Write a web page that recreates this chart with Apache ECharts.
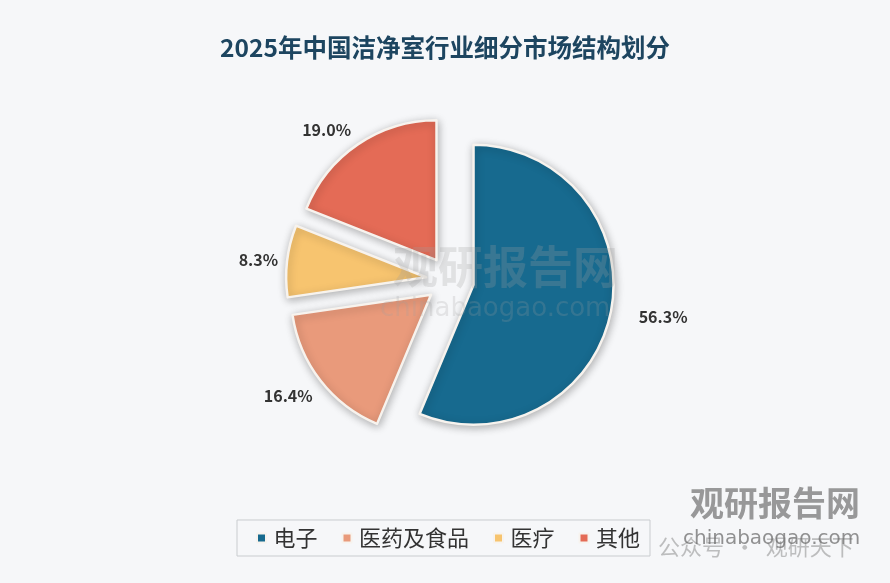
<!DOCTYPE html>
<html>
<head>
<meta charset="utf-8">
<script src="https://cdn.jsdelivr.net/npm/echarts@6/dist/echarts.min.js"></script>
<style>
html,body{margin:0;padding:0;background:#f6f7f9;}
#chart{width:890px;height:583px;}
</style>
</head>
<body>
<div id="chart"></div>
<script>
const title = '2025年中国洁净室行业细分市场结构划分';
const categories = ['电子', '医药及食品', '医疗', '其他'];
const shares = [56.3, 16.4, 8.3, 19.0];
const colors = ['#176a8f', '#e99a7b', '#f7c46f', '#e46b56'];

// label placement tweaks (style only)
const labelLen = [6, 6, 8, 12];
const labelLen2 = [17, 0, 0, 0];
const labelDx = [0, 2, 4, 5];
const labelDy = [3, 12, 0, -5];

const chart = echarts.init(document.getElementById('chart'));
const data = categories.map((name, i) => ({
  name: name,
  value: shares[i],
  selected: true,
  itemStyle: { color: colors[i] },
  labelLine: { length: labelLen[i], length2: labelLen2[i] }
}));

chart.setOption({
  animation: false,
  backgroundColor: '#f6f7f9',
  title: {
    text: title,
    left: 'center',
    top: 30,
    textStyle: {
      fontFamily: 'Noto Sans CJK SC',
      fontWeight: 'bold',
      fontSize: 24.5,
      color: '#1d4560'
    }
  },
  legend: {
    data: categories,
    left: 237,
    bottom: 27,
    icon: 'path://M0,0H10V10H0Z',
    itemWidth: 14,
    itemHeight: 9,
    itemGap: 24,
    padding: [7, 10, 7, 19],
    borderColor: '#c9cccf',
    borderWidth: 1,
    textStyle: {
      fontFamily: 'Noto Sans CJK SC',
      fontSize: 22,
      color: '#333'
    }
  },
  graphic: [
    { type: 'text', left: 393, top: 244, z: 100,
      style: { text: '观研报告网', fontFamily: 'Noto Sans CJK SC', fontWeight: 'bold', fontSize: 45, fill: 'rgba(160,160,160,0.25)' } },
    { type: 'text', left: 380, top: 296, z: 100,
      style: { text: 'chinabaogao.com', fontFamily: 'DejaVu Sans', fontSize: 26, fill: 'rgba(160,160,160,0.22)' } },
    { type: 'text', left: 690, top: 486, z: 100,
      style: { text: '观研报告网', fontFamily: 'Noto Sans CJK SC', fontWeight: 'bold', fontSize: 34, fill: 'rgba(120,120,120,0.75)' } },
    { type: 'text', left: 683, top: 529, z: 100,
      style: { text: 'chinabaogao.com', fontFamily: 'DejaVu Sans', fontSize: 20, fill: 'rgba(110,110,110,0.75)' } },
    { type: 'text', left: 658, top: 536, z: 99,
      style: { text: '公众号  ·  观研天下', fontFamily: 'Noto Sans CJK SC', fontSize: 22, fill: 'rgba(150,150,150,0.6)' } }
  ],
  series: [{
    type: 'pie',
    center: [450, 280],
    radius: 140,
    startAngle: 90,
    clockwise: true,
    selectedMode: 'multiple',
    selectedOffset: 24,
    avoidLabelOverlap: false,
    itemStyle: {
      borderColor: '#f7f3ee',
      borderWidth: 2.5,
      shadowBlur: 8,
      shadowOffsetX: 1,
      shadowOffsetY: 2,
      shadowColor: 'rgba(0,0,0,0.28)'
    },
    label: {
      show: true,
      position: 'outside',
      formatter: p => p.value.toFixed(1) + '%',
      fontFamily: 'Noto Sans CJK SC',
      fontWeight: 'bold',
      fontSize: 16,
      color: '#333'
    },
    labelLayout: function (params) {
      return { dx: labelDx[params.dataIndex], dy: labelDy[params.dataIndex] };
    },
    labelLine: { show: false },
    emphasis: { disabled: true },
    data: data
  }]
});
</script>
</body>
</html>
